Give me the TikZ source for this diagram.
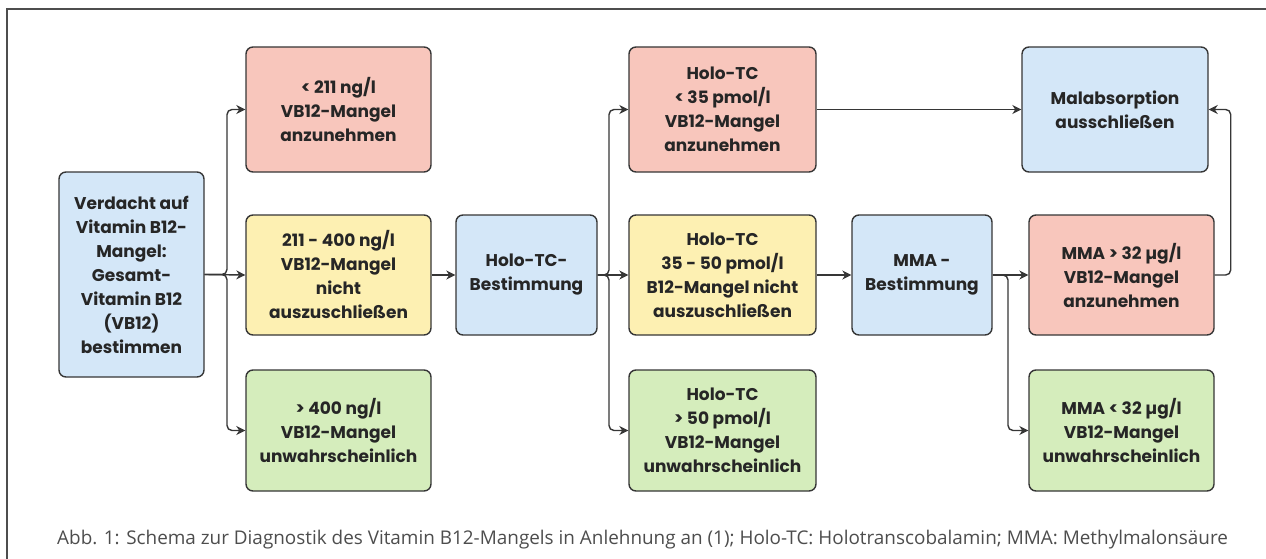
\documentclass[tikz,border=0pt]{standalone}
\usepackage{fontspec}
\setmainfont{Open Sans}
\newfontfamily\boxfont{Poppins Bold}
\usetikzlibrary{arrows.meta}
\definecolor{boxline}{HTML}{363636}
\definecolor{boxtext}{HTML}{262626}
\definecolor{cblue}{HTML}{D4E7F8}
\definecolor{cred}{HTML}{F8C6BC}
\definecolor{cyellow}{HTML}{FDF0B2}
\definecolor{cgreen}{HTML}{D5EDBC}
\definecolor{capgray}{HTML}{4D4D4D}

\begin{document}
\begin{tikzpicture}[x=1pt, y=-1pt,
  box/.style={draw=boxline, line width=1.4pt, rounded corners=7pt, align=center,
    inner sep=0pt, text=boxtext, font=\boxfont\fontsize{17}{24}\selectfont},
  bluebox/.style={box, fill=cblue},
  redbox/.style={box, fill=cred},
  yellowbox/.style={box, fill=cyellow},
  greenbox/.style={box, fill=cgreen},
  conn/.style={draw=boxline, line width=1.4pt, rounded corners=5pt,
    -{Stealth[length=9pt, width=9pt]}}
]
  \useasboundingbox (0,0) rectangle (1266,559);

  % Frame (open to the right and bottom)
  \draw[capgray, line width=1.2pt] (7,559) -- (7,9) -- (1266,9);

  % Start: total vitamin B12
  \node[bluebox, minimum width=145pt, minimum height=205pt] (start) at (131.5,274.5)
    {Verdacht auf\\Vitamin B12-\\Mangel:\\Gesamt-\\Vitamin B12\\(VB12)\\bestimmen};

  % First column: VB12 ranges
  \def\colw{185pt}
  \node[redbox, minimum width=\colw, minimum height=125pt] (vblow) at (338.5,109.5)
    {< 211 ng/l\\VB12-Mangel\\anzunehmen};
  \node[yellowbox, minimum width=\colw, minimum height=120pt] (vbmid) at (338.5,275)
    {211 - 400 ng/l\\VB12-Mangel\\nicht\\auszuschließen};
  \node[greenbox, minimum width=\colw, minimum height=121pt] (vbhigh) at (338.5,430.5)
    {> 400 ng/l\\VB12-Mangel\\unwahrscheinlich};

  % Holo-TC test
  \node[bluebox, minimum width=141pt, minimum height=120pt] (holo) at (526.5,275)
    {Holo-TC-\\Bestimmung};

  % Second column: Holo-TC ranges
  \def\colw{187pt}
  \node[redbox, minimum width=\colw, minimum height=125pt] (hclow) at (722.5,109.5)
    {Holo-TC\\< 35 pmol/l\\VB12-Mangel\\anzunehmen};
  \node[yellowbox, minimum width=\colw, minimum height=120pt] (hcmid) at (722.5,275)
    {Holo-TC\\35 - 50 pmol/l\\B12-Mangel nicht\\auszuschließen};
  \node[greenbox, minimum width=\colw, minimum height=121pt] (hchigh) at (722.5,430.5)
    {Holo-TC\\> 50 pmol/l\\VB12-Mangel\\unwahrscheinlich};

  % MMA test
  \node[bluebox, minimum width=140pt, minimum height=120pt] (mma) at (922,275)
    {MMA -\\Bestimmung};

  % Third column
  \node[bluebox, minimum width=186pt, minimum height=125pt] (malab) at (1115,109.5)
    {Malabsorption\\ausschließen};
  \node[redbox, minimum width=185pt, minimum height=120pt] (mmahigh) at (1121.5,275)
    {MMA > 32 µg/l\\VB12-Mangel\\anzunehmen};
  \node[greenbox, minimum width=185pt, minimum height=121pt] (mmalow) at (1121.5,430.5)
    {MMA < 32 µg/l\\VB12-Mangel\\unwahrscheinlich};

  % Fork points
  \coordinate (fork1) at (227,274.5);
  \coordinate (fork2) at (609,275);
  \coordinate (fork3) at (1008,275);

  % Connectors
  \draw[conn] (start.east) -- (fork1) |- (vblow.west);
  \draw[conn] (start.east) -- (vbmid.west);
  \draw[conn] (start.east) -- (fork1) |- (vbhigh.west);
  \draw[conn] (vbmid.east) -- (holo.west);
  \draw[conn] (holo.east) -- (fork2) |- (hclow.west);
  \draw[conn] (holo.east) -- (hcmid.west);
  \draw[conn] (holo.east) -- (fork2) |- (hchigh.west);
  \draw[conn] (hcmid.east) -- (mma.west);
  \draw[conn] (mma.east) -- (mmahigh.west);
  \draw[conn] (mma.east) -- (fork3) |- (mmalow.west);
  \draw[conn] (hclow.east) -- (malab.west);
  \draw[conn] (mmahigh.east) -- ++(16,0) |- (malab.east);

  % Caption
  \node[anchor=base west, inner sep=0pt, text=capgray, font=\fontsize{18.9}{22}\selectfont]
    (caption) at (57,544)
    {Abb. 1: Schema zur Diagnostik des Vitamin B12-Mangels in Anlehnung an (1); Holo-TC: Holotranscobalamin; MMA: Methylmalonsäure};
\end{tikzpicture}
\end{document}
